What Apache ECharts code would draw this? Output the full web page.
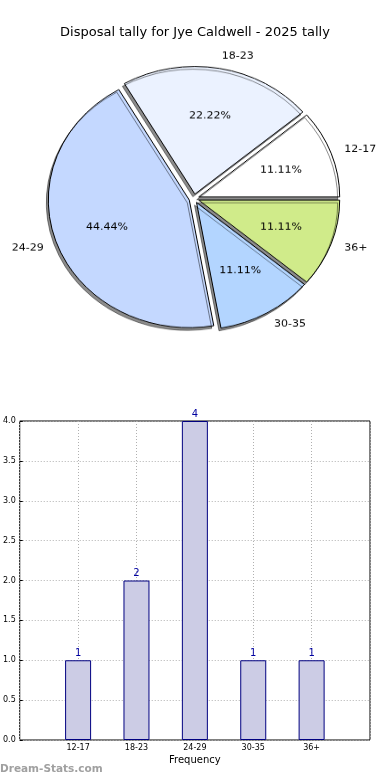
<!DOCTYPE html>
<html><head><meta charset="utf-8">
<script src="https://cdn.jsdelivr.net/npm/echarts@6/dist/echarts.min.js"></script>
<style>
html,body{margin:0;padding:0;background:#fff;}
#main{position:absolute;left:0;top:0;width:390px;height:780px;}
#pie{position:absolute;left:0;top:0;width:390px;height:400px;transform:scaleY(0.905);transform-origin:194px 198.5px;}
</style></head>
<body>
<div id="main"></div>
<div id="pie"></div>
<script>
const titleText = 'Disposal tally for Jye Caldwell - 2025 tally';
const categories = ['12-17', '18-23', '24-29', '30-35', '36+'];
const counts = [1, 2, 4, 1, 1];
const sliceColors = ['#FFFFFF', '#EBF2FF', '#C4D8FF', '#B3D5FF', '#D0EB8A'];
const yTicks = [0, 0.5, 1, 1.5, 2, 2.5, 3, 3.5, 4];

const FONT = 'DejaVu Sans';
const R = 141, CX = 194, CY = 198.5, OFF = 5;
const total = counts.reduce((a, b) => a + b, 0);

// ---------- main chart: title + bar ----------
const main = echarts.init(document.getElementById('main'), null, {renderer: 'canvas'});
const xCats = [''].concat(categories, ['']);
const barData = [null].concat(counts, [null]);
main.setOption({
  backgroundColor: '#fff',
  animation: false,
  title: {text: titleText, left: 'center', top: 21,
    textStyle: {fontFamily: FONT, fontSize: 13, fontWeight: 'normal', color: '#000'}},
  grid: {left: 19, top: 421, width: 351, height: 319, show: true, borderColor: '#000', borderWidth: 1, backgroundColor: 'transparent'},
  xAxis: {
    type: 'category', data: xCats, boundaryGap: false,
    name: 'Frequency', nameLocation: 'middle', nameGap: 15,
    nameTextStyle: {fontFamily: FONT, fontSize: 10, color: '#000'},
    axisLine: {show: false},
    axisTick: {show: true, inside: true, length: 3, interval: i => i > 0 && i < xCats.length - 1, lineStyle: {color: '#000'}},
    axisLabel: {fontFamily: FONT, fontSize: 8, color: '#000', margin: 4, interval: 0},
    splitLine: {show: true, lineStyle: {color: '#b0b0b0', type: [1, 2], width: 1}}
  },
  yAxis: {
    type: 'value', min: yTicks[0], max: yTicks[yTicks.length - 1], interval: 0.5,
    axisLine: {show: false},
    axisTick: {show: true, inside: true, length: 3, lineStyle: {color: '#000'}},
    axisLabel: {fontFamily: FONT, fontSize: 8, color: '#000', margin: 4,
      formatter: v => v.toFixed(1)},
    splitLine: {show: true, lineStyle: {color: '#b0b0b0', type: [1, 2], width: 1}}
  },
  series: [{
    type: 'bar', data: barData, barWidth: 26,
    itemStyle: {color: '#CCCCE5', borderColor: '#000080', borderWidth: 1},
    label: {show: true, position: 'top', distance: 2, fontFamily: FONT, fontSize: 10, color: '#0000A0'}
  }],
  graphic: [{
    type: 'text', left: 0, top: 764,
    style: {text: 'Dream-Stats.com', fontFamily: FONT, fontSize: 10.5, fontWeight: 'bold', fill: '#a0a0a0'}
  }]
});

// ---------- pie chart ----------
const pie = echarts.init(document.getElementById('pie'), null, {renderer: 'canvas'});
const pieData = categories.map((c, i) => ({
  name: c, value: counts[i], selected: true,
  itemStyle: {color: sliceColors[i]}
}));
pie.setOption({
  animation: false,
  series: [{
    type: 'pie', center: [CX, CY], radius: [0, R],
    startAngle: 0, clockwise: false,
    selectedMode: 'multiple', selectedOffset: OFF,
    avoidLabelOverlap: false, silent: true,
    data: pieData,
    itemStyle: {borderColor: '#000', borderWidth: 1,
      shadowColor: 'rgba(0,0,0,0.45)', shadowOffsetX: -2, shadowOffsetY: 3, shadowBlur: 0},
    select: {itemStyle: {borderColor: '#000', borderWidth: 1}},
    label: {show: true, position: 'outside', formatter: '{b}', fontFamily: FONT, fontSize: 11, color: '#000', distanceToLabelLine: 0},
    labelLine: {show: false, length: 14, length2: 0}
  }, {
    type: 'pie', center: [CX, CY], radius: [28, R],
    startAngle: 0, clockwise: false,
    selectedMode: 'multiple', selectedOffset: OFF,
    avoidLabelOverlap: false, silent: true,
    data: categories.map((c, i) => ({name: c, value: counts[i], selected: true})),
    itemStyle: {color: 'rgba(0,0,0,0)', borderWidth: 0},
    select: {itemStyle: {color: 'rgba(0,0,0,0)', borderWidth: 0}},
    label: {show: true, position: 'inside', formatter: p => (p.value / total * 100).toFixed(2) + '%', fontFamily: FONT, fontSize: 11, color: '#000'},
    labelLine: {show: false}
  }]
});
</script>
</body></html>
